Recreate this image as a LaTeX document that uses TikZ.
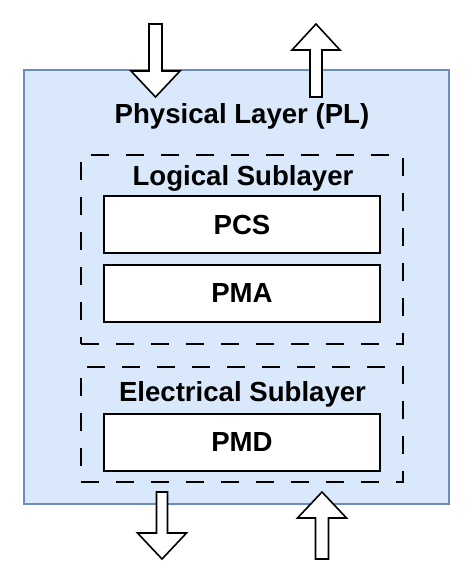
\documentclass[tikz,border=0pt]{standalone}
\usepackage{fontspec}
\setmainfont{Liberation Sans}
\usepackage{tikz}

\definecolor{plfill}{HTML}{DAE8FC}
\definecolor{pldraw}{HTML}{6C8EBF}

\tikzset{
  labeltext/.style={anchor=base, font=\fontsize{27.6}{31}\selectfont\bfseries},
  subbox/.style={draw, dash pattern=on 18pt off 17pt, line width=2pt},
  layerbox/.style={draw, fill=white, line width=2pt, inner sep=0pt, minimum width=276pt, minimum height=57pt, font=\fontsize{27.6}{31}\selectfont\bfseries},
  blockarrow/.style={draw, fill=white, line width=1.6pt, line join=miter}
}

\begin{document}
\begin{tikzpicture}[x=1pt, y=-1pt]
        \useasboundingbox (0,0) rectangle (473,584);

        % Physical layer frame
        \draw[pldraw, fill=plfill, line width=1.3pt] (24,70) rectangle (449,504);
        \node[labeltext] (pl) at (242,123) {Physical Layer (PL)};

        % Logical sublayer
        \node[subbox, minimum width=322pt, minimum height=189pt] (logical) at (242,249.5) {};
        \node[labeltext] (logicaltitle) at (243,185) {Logical Sublayer};
        \node[layerbox] (pcs) at (242,224.5) {PCS};
        \node[layerbox] (pma) at (242,293) {PMA};

        % Electrical sublayer
        \node[subbox, minimum width=322pt, minimum height=115pt] (electrical) at (242,424.5) {};
        \node[labeltext] (electricaltitle) at (242.5,401) {Electrical Sublayer};
        \node[layerbox] (pmd) at (242,442) {PMD};

        % Arrows in and out on top
        \draw[blockarrow] (155.5,97) -- ++(-24.5,-26) -- ++(18,0) -- ++(0,-47) -- ++(13,0) -- ++(0,47) -- ++(18,0) -- cycle;
        \draw[blockarrow] (316,24) -- ++(24,26) -- ++(-18,0) -- ++(0,47) -- ++(-12,0) -- ++(0,-47) -- ++(-18,0) -- cycle;

        % Arrows in and out at the bottom
        \draw[blockarrow] (162,559) -- ++(-24.5,-26) -- ++(19,0) -- ++(0,-41) -- ++(11,0) -- ++(0,41) -- ++(19,0) -- cycle;
        \draw[blockarrow] (322,492) -- ++(24.5,26) -- ++(-18,0) -- ++(0,41) -- ++(-13,0) -- ++(0,-41) -- ++(-18,0) -- cycle;
\end{tikzpicture}
\end{document}
